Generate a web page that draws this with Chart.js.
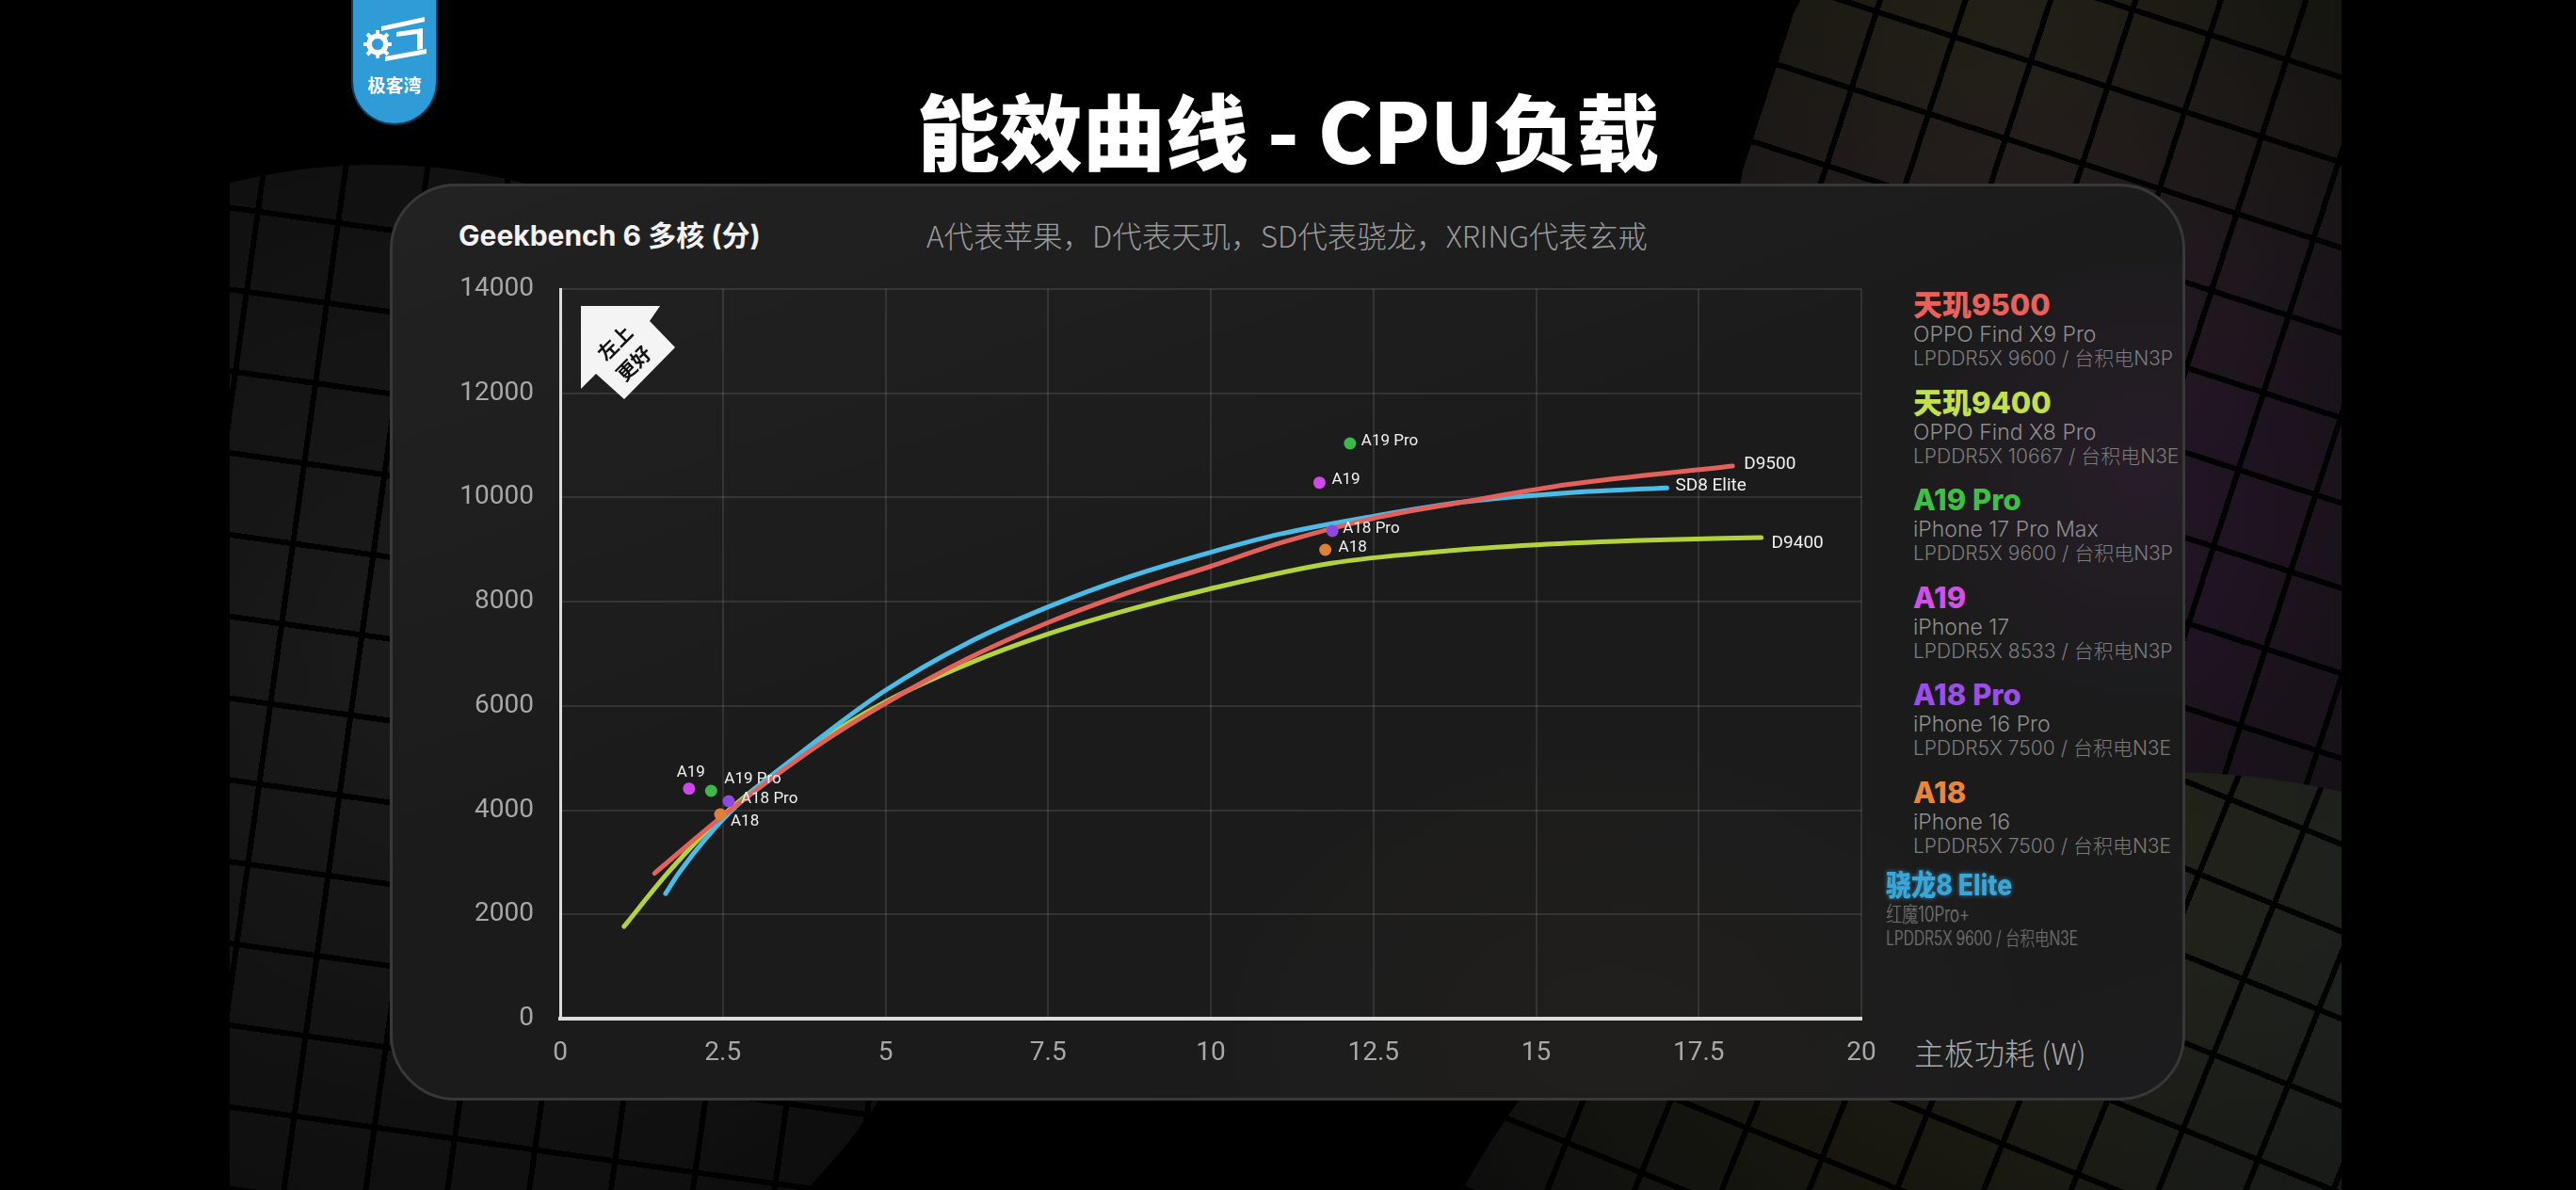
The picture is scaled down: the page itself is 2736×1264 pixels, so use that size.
<!DOCTYPE html>
<html>
<head>
<meta charset="utf-8">
<script src="https://cdn.jsdelivr.net/npm/chart.js@4.4.1/dist/chart.umd.min.js"></script>
<style>
  html, body { margin: 0; padding: 0; background: #000; width: 2736px; height: 1264px; overflow: hidden; }
  body { font-family: Inter, 'Noto Sans CJK SC', sans-serif; position: relative; }
  #slide { position: absolute; left: 244px; top: 0; width: 2243px; height: 1264px; overflow: hidden; background: #000; }
  .wafer { position: absolute; border-radius: 50%; }
  .wafer .grid { position: absolute; inset: 0; border-radius: 50%;
    background-image:
      repeating-linear-gradient(0deg, rgba(0,0,0,0.95) 0 6px, transparent 6px 86px),
      repeating-linear-gradient(90deg, rgba(0,0,0,0.95) 0 6px, transparent 6px 86px); }
  #card { position: absolute; left: 414px; top: 195px; width: 1907px; height: 974px; box-sizing: border-box;
    border-radius: 70px; border: 3px solid #383838;
    background:
      radial-gradient(ellipse 380px 360px at 1860px 300px, rgba(100,40,110,0.16), transparent 70%),
      radial-gradient(ellipse 700px 500px at 1300px 900px, rgba(70,60,30,0.12), transparent 70%),
      linear-gradient(160deg, #222 0%, #1b1b1b 45%, #1c1b1d 100%); }
  #chartBox { position: absolute; left: 414px; top: 195px; width: 1603px; height: 974px; }
  .txt { position: absolute; white-space: nowrap; }
  #title { left: 0; width: 2736px; text-align: center; top: 80px; font-family: 'Noto Sans CJK SC', sans-serif;
    font-weight: 900; font-size: 88px; line-height: 112px; color: #fff; }
  #yTitle { left: 487px; top: 230px; font-size: 30px; line-height: 40px; font-weight: 700; color: #f2f2f2; }
  #note { left: 984px; top: 229px; font-size: 31.5px; line-height: 40px; color: #9a9a9a; font-family: 'Noto Sans CJK SC', sans-serif; font-weight: 300; }
  #xTitle { left: 2033px; top: 1097px; font-size: 32px; line-height: 40px; color: #a8a8a8; font-family: 'Noto Sans CJK SC', sans-serif; font-weight: 300; }
  .lg { position: absolute; white-space: nowrap; }
  .lg .n { font-size: 31px; line-height: 36px; font-weight: 800; font-family: Inter, 'Noto Sans CJK SC', sans-serif; }
  .lg .d { font-size: 23px; line-height: 26px; color: #8e8e8e; font-weight: 300; }
  .lg .s { font-size: 21px; line-height: 26px; color: #7c7c7c; font-weight: 300; }
  .lg.glitch .n { transform: scaleX(0.86); transform-origin: left; text-shadow: 0 0 6px rgba(60,170,220,0.7); }
  .lg.glitch .d, .lg.glitch .s { transform: scaleX(0.74); transform-origin: left; color: #6a6a6a; text-shadow: 1px 0 1px rgba(120,120,120,0.6); }
  #logo { position: absolute; left: 375px; top: 0; width: 88px; height: 131px; background: #2f9bd7;
    border-radius: 0 0 44px 44px; box-shadow: 0 0 0 2px #0d3a55; }
  #logo .t { position: absolute; left: 0; width: 88px; top: 78px; text-align: center; color: #fff;
    font-family: 'Noto Sans CJK SC', sans-serif; font-weight: 700; font-size: 19px; line-height: 24px; }
</style>
</head>
<body>
<div id="slide">
  <div class="wafer" style="left:-484px; top:175px; width:1280px; height:1280px; background: radial-gradient(circle at 55% 40%, #1c1c1c, #0c0c0c 70%); transform: rotate(8deg);"><div class="grid"></div></div>
  <div class="wafer" style="left:1596px; top:-360px; width:1320px; height:1320px; background: radial-gradient(circle at 15% 35%, rgba(90,90,30,0.22), transparent 40%), radial-gradient(circle at 30% 75%, rgba(100,40,110,0.3), transparent 45%), #0f0f0f; transform: rotate(18deg);"><div class="grid"></div></div>
  <div class="wafer" style="left:1206px; top:820px; width:1700px; height:1700px; background: radial-gradient(circle at 25% 10%, rgba(90,90,30,0.28), transparent 35%), radial-gradient(circle at 55% 5%, rgba(50,70,110,0.22), transparent 35%), #0e0e0e; transform: rotate(22deg);"><div class="grid"></div></div>
</div>

<div id="logo">
  <svg width="88" height="78" viewBox="0 0 88 78">
    <g fill="none" stroke="#fff" stroke-width="5">
      <circle cx="26" cy="47" r="9"/>
    </g>
    <g stroke="#fff" stroke-width="4">
      <line x1="26" y1="32" x2="26" y2="62"/><line x1="11" y1="47" x2="41" y2="47"/>
      <line x1="15" y1="36" x2="37" y2="58"/><line x1="37" y1="36" x2="15" y2="58"/>
    </g>
    <circle cx="26" cy="47" r="6" fill="#2f9bd7"/>
    <g fill="#fff">
      <polygon points="30,28 76,18 76,23 30,33"/>
      <polygon points="46,34 74,30 74,52 68,53 68,36 46,39"/>
      <polygon points="34,60 78,52 78,57 34,65"/>
    </g>
  </svg>
  <div class="t">极客湾</div>
</div>

<div id="title" class="txt">能效曲线 - CPU负载</div>
<div id="card"></div>
<div id="yTitle" class="txt">Geekbench 6 多核 (分)</div>
<div id="note" class="txt">A代表苹果，D代表天玑，SD代表骁龙，XRING代表玄戒</div>
<div id="xTitle" class="txt">主板功耗 (W)</div>
<div id="chartBox"><canvas id="c"></canvas></div>
<div id="legend"></div>

<script>
// curves: board power (W) vs Geekbench 6 multi-core
const d9500Power = [1.45, 2.46, 4.0, 5.0, 6.25, 7.5, 8.75, 10.0, 11.07, 12.5, 13.9, 15.5, 18.02];
const d9500Score = [2790, 3850, 5275, 6050, 6900, 7600, 8180, 8680, 9128, 9600, 9917, 10250, 10604];

const sd8Power = [1.62, 1.83, 2.6, 3.88, 5.0, 6.25, 7.5, 8.75, 10.0, 11.07, 12.5, 13.9, 15.5, 17.01];
const sd8Score = [2400, 2806, 3950, 5275, 6300, 7200, 7900, 8480, 8950, 9300, 9640, 9917, 10090, 10183];

const d9400Power = [0.98, 1.66, 2.5, 3.93, 5.0, 6.25, 7.5, 8.75, 10.0, 11.85, 13.5, 15.0, 16.75, 18.46];
const d9400Score = [1767, 2806, 3900, 5275, 6080, 6800, 7380, 7850, 8250, 8738, 8960, 9090, 9180, 9231];

const curveNames = ['D9500', 'SD8 Elite', 'D9400'];

// Apple chips: two measured points each (low / high load)
const appleChips = ['A19 Pro', 'A19', 'A18 Pro', 'A18'];
const appleLowPower = [2.32, 1.98, 2.59, 2.46];
const appleLowScore = [4372, 4414, 4173, 3920];
const appleHighPower = [12.14, 11.67, 11.87, 11.76];
const appleHighScore = [11037, 10284, 9357, 8996];

const powerTicks = [0, 2.5, 5, 7.5, 10, 12.5, 15, 17.5, 20];
const scoreTicks = [0, 2000, 4000, 6000, 8000, 10000, 12000, 14000];

const legendNames = ['天玑9500', '天玑9400', 'A19 Pro', 'A19', 'A18 Pro', 'A18', '骁龙8 Elite'];
const legendDevices = ['OPPO Find X9 Pro', 'OPPO Find X8 Pro', 'iPhone 17 Pro Max', 'iPhone 17', 'iPhone 16 Pro', 'iPhone 16', '红魔10Pro+'];
const legendSpecs = ['LPDDR5X 9600 / 台积电N3P', 'LPDDR5X 10667 / 台积电N3E', 'LPDDR5X 9600 / 台积电N3P',
  'LPDDR5X 8533 / 台积电N3P', 'LPDDR5X 7500 / 台积电N3E', 'LPDDR5X 7500 / 台积电N3E', 'LPDDR5X 9600 / 台积电N3E'];

const legendColors = ['#e8625b', '#c2e04e', '#3fbf45', '#d34fe8', '#9b4fe6', '#e8873c', '#3aa6d8'];
const appleColors = ['#3cb84a', '#d048e8', '#9048e0', '#e08038'];
const RED = '#e2615b', BLUE = '#4bbbe8', LIME = '#b2d23e';

// legend on the right
const legend = document.getElementById('legend');
legendNames.forEach((name, i) => {
  const g = document.createElement('div');
  g.className = 'lg' + (i === 6 ? ' glitch' : '');
  g.style.left = (i === 6 ? 2003 : 2032) + 'px';
  g.style.top = (i === 6 ? 922 : 306 + i * 103.5) + 'px';
  g.innerHTML = '<div class="n" style="color:' + legendColors[i] + '">' + name + '</div>' +
    '<div class="d">' + legendDevices[i] + '</div><div class="s">' + legendSpecs[i] + '</div>';
  legend.appendChild(g);
});

const toXY = (xs, ys) => xs.map((x, i) => ({ x: x, y: ys[i] }));

// label placement (pixels from the point)
const lowOffsets = [[14, -12, 'left'], [2, -17, 'center'], [13, -2, 'left'], [11, 8, 'left']];
const highOffsets = [[12, -2, 'left'], [13, -3, 'left'], [11, -2, 'left'], [14, -2, 'left']];
const endOffsets = [[12, -2], [9, -2], [11, 6]];

const labelPlugin = {
  id: 'labels',
  afterDatasetsDraw(chart) {
    const ctx = chart.ctx;
    ctx.save();
    ctx.fillStyle = '#f0f0f0';
    ctx.textBaseline = 'middle';
    chart.data.datasets.forEach((ds, i) => {
      const meta = chart.getDatasetMeta(i);
      if (ds.kind === 'curve') {
        const p = meta.data[meta.data.length - 1];
        const o = endOffsets[ds.idx];
        ctx.font = '19px Roboto';
        ctx.textAlign = 'left';
        ctx.fillText(curveNames[ds.idx], p.x + o[0], p.y + o[1]);
      } else {
        const offs = ds.kind === 'low' ? lowOffsets : highOffsets;
        ctx.font = '17px Roboto';
        meta.data.forEach((p, j) => {
          const o = offs[j];
          ctx.textAlign = o[2];
          ctx.fillText(appleChips[j], p.x + o[0], p.y + o[1]);
        });
      }
    });
    ctx.restore();
  },
  afterDraw(chart) {
    // "左上更好" badge in the top-left corner of the plot
    const ctx = chart.ctx, a = chart.chartArea;
    const pts = [[22, 18], [106, 18], [95, 34], [122, 62], [68, 117], [38, 90], [22, 106]];
    ctx.save();
    ctx.translate(a.left, a.top);
    ctx.beginPath();
    pts.forEach((p, i) => i ? ctx.lineTo(p[0], p[1]) : ctx.moveTo(p[0], p[1]));
    ctx.closePath();
    ctx.fillStyle = '#f4f4f4';
    ctx.fill();
    ctx.fillStyle = '#111';
    ctx.font = '700 21px "Noto Sans CJK SC"';
    ctx.textAlign = 'center';
    ctx.textBaseline = 'middle';
    [['左上', 58, 57], ['更好', 78, 79]].forEach(t => {
      ctx.save();
      ctx.translate(t[1], t[2]);
      ctx.rotate(-Math.PI / 4);
      ctx.fillText(t[0], 0, 0);
      ctx.restore();
    });
    ctx.restore();
  }
};

const curve = (idx, xs, ys, color) => ({
  kind: 'curve', idx: idx, data: toXY(xs, ys), showLine: true, borderColor: color, borderWidth: 5,
  pointRadius: 0, cubicInterpolationMode: 'monotone', borderCapStyle: 'round', fill: false
});

new Chart(document.getElementById('c'), {
  type: 'scatter',
  data: {
    datasets: [
      { kind: 'high', data: toXY(appleHighPower, appleHighScore), backgroundColor: appleColors, pointRadius: 6.5, borderWidth: 0 },
      { kind: 'low', data: toXY(appleLowPower, appleLowScore), backgroundColor: appleColors, pointRadius: 6.5, borderWidth: 0 },
      curve(0, d9500Power, d9500Score, RED),
      curve(1, sd8Power, sd8Score, BLUE),
      curve(2, d9400Power, d9400Score, LIME)
    ]
  },
  options: {
    responsive: true,
    maintainAspectRatio: false,
    animation: false,
    layout: { padding: { top: 112, right: 40, left: 0, bottom: 0 } },
    plugins: { legend: { display: false }, tooltip: { enabled: false } },
    scales: {
      x: {
        type: 'linear', min: 0, max: 20,
        afterBuildTicks: s => { s.ticks = powerTicks.map(v => ({ value: v })); },
        afterFit: s => { s.height = 87; },
        grid: { color: 'rgba(255,255,255,0.1)', lineWidth: 2, drawTicks: false },
        border: { display: true, color: '#dcdcdc', width: 4 },
        ticks: { color: '#a8a8a8', font: { family: 'Roboto', size: 28 }, padding: 20, callback: v => String(v) }
      },
      y: {
        type: 'linear', min: 0, max: 14000,
        afterBuildTicks: s => { s.ticks = scoreTicks.map(v => ({ value: v })); },
        afterFit: s => { s.width = 181; },
        grid: { color: 'rgba(255,255,255,0.1)', lineWidth: 2, drawTicks: false },
        border: { display: true, color: '#dcdcdc', width: 3 },
        ticks: { color: '#a8a8a8', font: { family: 'Roboto', size: 28 }, padding: 28, callback: v => String(v) }
      }
    }
  },
  plugins: [labelPlugin]
});
</script>
</body>
</html>
